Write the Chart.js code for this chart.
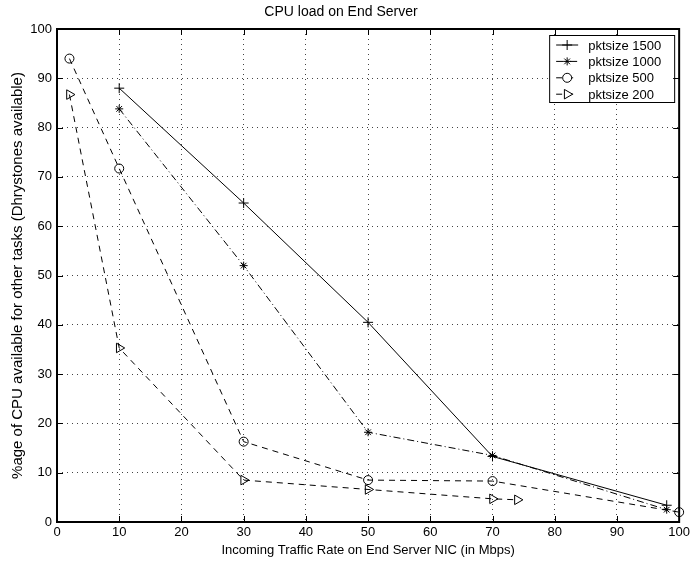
<!DOCTYPE html>
<html>
<head>
<meta charset="utf-8">
<script src="https://cdn.jsdelivr.net/npm/chart.js@4"></script>
<style>
  html, body { margin: 0; padding: 0; background: #fff; }
  #wrap { width: 693px; height: 562px; }
</style>
</head>
<body>
<div id="wrap"><canvas id="cpu-chart" width="693" height="562"></canvas></div>
<script>
// traffic rate (Mbps) and CPU left over (%) for each packet size
var rate1500 = [10, 30, 50, 70, 98];
var cpu1500 = [88, 64.7, 40.5, 13.3, 3.4];
var rate1000 = [10, 30, 50, 70, 98];
var cpu1000 = [83.8, 52, 18.2, 13.5, 2.5];
var rate500 = [2, 10, 30, 50, 70, 100];
var cpu500 = [94, 71.7, 16.3, 8.5, 8.3, 2];
var rate200 = [2, 10, 30, 50, 70, 74];
var cpu200 = [86.7, 35.3, 8.5, 6.6, 4.7, 4.5];

var names = ["pktsize 1500", "pktsize 1000", "pktsize 500", "pktsize 200"];

var FONT = "'Liberation Sans', Arial, Helvetica, sans-serif";

function pts(xs, ys) {
  return xs.map(function (x, i) { return { x: x, y: ys[i] }; });
}

function series(label, xs, ys, dash, style, radius, rot) {
  return {
    label: label,
    data: pts(xs, ys),
    borderColor: "#000",
    backgroundColor: "rgba(0,0,0,0)",
    borderWidth: 1,
    borderDash: dash,
    pointStyle: style,
    pointRadius: radius,
    pointRotation: rot || 0,
    pointBorderColor: "#000",
    pointBackgroundColor: "rgba(0,0,0,0)",
    pointBorderWidth: 1,
    tension: 0,
    clip: false
  };
}

var datasets = [
  series(names[0], rate1500, cpu1500, [], "cross", 5),
  series(names[1], rate1000, cpu1000, [7, 3, 1, 3], "star", 4),
  series(names[2], rate500, cpu500, [6, 5], "circle", 4.5),
  series(names[3], rate200, cpu200, [6, 5], "triangle", 5.5, 90)
];

// inward tick marks on all four sides, plus the axes box
var boxTicks = {
  id: "boxTicks",
  afterDraw: function (chart) {
    var ctx = chart.ctx, a = chart.chartArea;
    var xs = chart.scales.x, ys = chart.scales.y;
    ctx.save();
    ctx.strokeStyle = "#000";
    ctx.lineWidth = 1;
    ctx.beginPath();
    xs.ticks.forEach(function (t) {
      var px = Math.round(xs.getPixelForValue(t.value)) + 0.5;
      ctx.moveTo(px, a.bottom); ctx.lineTo(px, a.bottom - 6);
      ctx.moveTo(px, a.top); ctx.lineTo(px, a.top + 6);
    });
    ys.ticks.forEach(function (t) {
      var py = Math.round(ys.getPixelForValue(t.value)) + 0.5;
      ctx.moveTo(a.left, py); ctx.lineTo(a.left + 6, py);
      ctx.moveTo(a.right, py); ctx.lineTo(a.right - 6, py);
    });
    ctx.stroke();
    ctx.lineWidth = 2;
    ctx.strokeRect(a.left, a.top, a.right - a.left, a.bottom - a.top);
    ctx.restore();
  }
};

// boxed legend in the upper right corner
var boxLegend = {
  id: "boxLegend",
  afterDatasetsDraw: function (chart) {
    var ctx = chart.ctx, a = chart.chartArea;
    var bx = a.right - 130, by = a.top + 6, bw = 125, bh = 67;
    ctx.save();
    ctx.fillStyle = "#fff";
    ctx.fillRect(bx, by, bw, bh);
    ctx.strokeStyle = "#000";
    ctx.lineWidth = 1;
    ctx.strokeRect(bx + 0.5, by + 0.5, bw, bh);
    ctx.font = "13px " + FONT;
    ctx.textBaseline = "middle";
    chart.data.datasets.forEach(function (ds, i) {
      var y = by + 10 + i * 16.4;
      var x0 = bx + 7, x1 = bx + 29;
      ctx.setLineDash(ds.borderDash);
      ctx.beginPath();
      ctx.moveTo(x0, y); ctx.lineTo(x1, y);
      ctx.stroke();
      ctx.setLineDash([]);
      ctx.fillStyle = "#fff";
      Chart.helpers.drawPoint(ctx, {
        pointStyle: ds.pointStyle,
        rotation: ds.pointRotation,
        radius: ds.pointRadius,
        borderWidth: 1
      }, (x0 + x1) / 2, y);
      ctx.fillStyle = "#000";
      ctx.fillText(ds.label, bx + 39, y + 1);
    });
    ctx.restore();
  }
};

new Chart(document.getElementById("cpu-chart"), {
  type: "line",
  data: { datasets: datasets },
  plugins: [boxTicks, boxLegend],
  options: {
    responsive: false,
    animation: false,
    layout: { padding: { left: 0, right: 11, top: 0, bottom: 0 } },
    plugins: {
      legend: { display: false },
      tooltip: { enabled: false },
      title: {
        display: true,
        text: "CPU load on End Server",
        color: "#000",
        font: { family: FONT, size: 14, weight: "normal", lineHeight: 1.2 },
        padding: { top: 4, bottom: 8.2 }
      }
    },
    scales: {
      x: {
        type: "linear",
        min: 0, max: 100,
        ticks: { stepSize: 10, color: "#000", font: { family: FONT, size: 13 }, padding: 3, maxRotation: 0 },
        grid: { color: "#444", drawTicks: false },
        border: { display: false, dash: [1, 4] },
        title: {
          display: true,
          text: "Incoming Traffic Rate on End Server NIC (in Mbps)",
          color: "#000",
          font: { family: FONT, size: 13 },
          padding: { top: 1, bottom: 4 }
        },
        afterFit: function (s) { s.height = 40; }
      },
      y: {
        min: 0, max: 100,
        ticks: { stepSize: 10, color: "#000", font: { family: FONT, size: 13 }, padding: 5 },
        grid: { color: "#444", drawTicks: false },
        border: { display: false, dash: [1, 4] },
        title: {
          display: true,
          text: "%age of CPU available for other tasks (Dhrystones available)",
          color: "#000",
          font: { family: FONT, size: 15 },
          padding: { top: 9, bottom: 4 }
        },
        afterFit: function (s) { s.width = 57; }
      }
    }
  }
});
</script>
</body>
</html>
